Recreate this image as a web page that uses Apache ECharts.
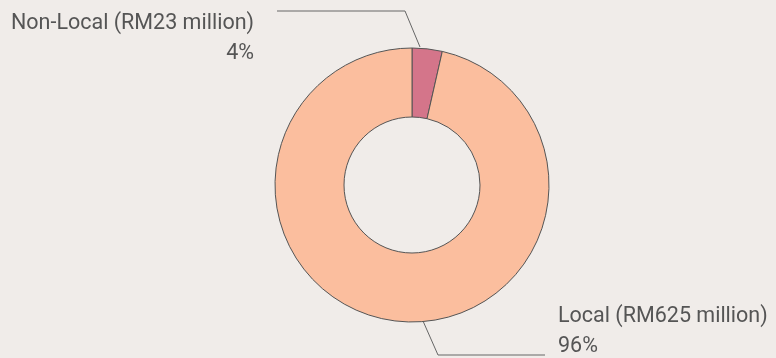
<!DOCTYPE html>
<html>
<head>
<meta charset="utf-8">
<script src="https://cdn.jsdelivr.net/npm/echarts@6/dist/echarts.min.js"></script>
<style>
html,body{margin:0;padding:0;background:#f0ece9;}
#chart{width:776px;height:358px;}
</style>
</head>
<body>
<div id="chart"></div>
<script>
const categories = ['Non-Local', 'Local'];
const values = [23, 625];
const colors = ['#d4758a', '#fbbe9e'];

const chart = echarts.init(document.getElementById('chart'), null, {renderer: 'canvas'});

const labelPlacement = [
  {x: 254, y: 9, align: 'right', line: [[420, 47], [405, 11], [277, 11]]},
  {x: 558, y: 302, align: 'left', line: [[423, 321], [438, 355], [545, 355]]}
];

chart.setOption({
  backgroundColor: '#f0ece9',
  animation: false,
  series: [{
    type: 'pie',
    center: [412, 185],
    radius: [68, 137],
    startAngle: 90,
    clockwise: true,
    avoidLabelOverlap: false,
    percentPrecision: 0,
    data: categories.map((c, i) => ({name: c, value: values[i], itemStyle: {color: colors[i]}})),
    itemStyle: {borderColor: '#555555', borderWidth: 1},
    label: {
      show: true,
      position: 'outside',
      formatter: p => p.name + ' (RM' + p.value + ' million)\n' + p.percent + '%',
      fontFamily: 'Roboto',
      fontSize: 21.5,
      lineHeight: 30,
      color: '#555555'
    },
    labelLine: {
      show: true,
      length: 20,
      length2: 30,
      lineStyle: {color: '#666666', width: 1}
    },
    labelLayout: function (params) {
      const p = labelPlacement[params.dataIndex];
      return {
        x: p.x,
        y: p.y,
        align: p.align,
        verticalAlign: 'top',
        labelLinePoints: p.line
      };
    },
    emphasis: {disabled: true}
  }]
});
</script>
</body>
</html>
